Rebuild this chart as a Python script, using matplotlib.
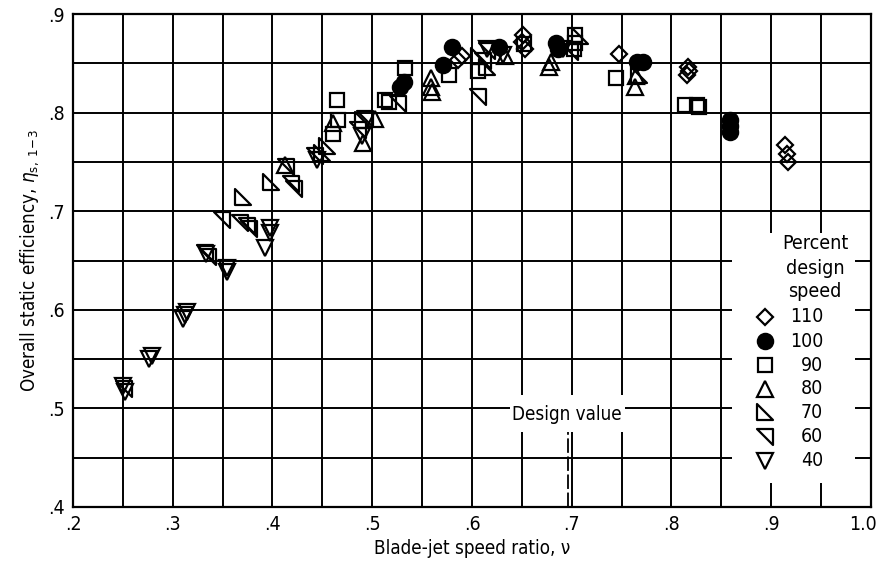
import matplotlib
matplotlib.use("Agg")
import matplotlib.pyplot as plt
import matplotlib.transforms as mtransforms
from matplotlib.path import Path
from matplotlib.patches import Rectangle
import numpy as np

plt.rcParams['font.family'] = ['DejaVu Sans']
plt.rcParams['font.stretch'] = 'condensed'
plt.rcParams['mathtext.fontset'] = 'dejavusans'

# ---- data ----
x110 = [0.586, 0.590, 0.650, 0.651, 0.653, 0.747, 0.817, 0.818, 0.816, 0.914, 0.916, 0.917]
y110 = [0.853, 0.857, 0.872, 0.879, 0.864, 0.859, 0.846, 0.842, 0.838, 0.767, 0.758, 0.750]

x100 = [0.528, 0.532, 0.571, 0.580, 0.627, 0.684, 0.686, 0.765, 0.771, 0.859, 0.859, 0.859]
y100 = [0.826, 0.831, 0.848, 0.867, 0.867, 0.871, 0.864, 0.851, 0.851, 0.793, 0.786, 0.780]

x90 = [0.461, 0.465, 0.466, 0.513, 0.517, 0.533, 0.577, 0.606, 0.652, 0.702, 0.703, 0.703, 0.744, 0.814, 0.826, 0.828]
y90 = [0.778, 0.813, 0.793, 0.813, 0.811, 0.845, 0.838, 0.842, 0.870, 0.864, 0.871, 0.879, 0.835, 0.808, 0.808, 0.806]

x80 = [0.413, 0.461, 0.491, 0.503, 0.559, 0.559, 0.560, 0.633, 0.677, 0.679, 0.763, 0.764]
y80 = [0.747, 0.789, 0.769, 0.794, 0.835, 0.826, 0.821, 0.857, 0.846, 0.851, 0.826, 0.837]

x70 = [0.370, 0.398, 0.450, 0.455, 0.491, 0.607, 0.615, 0.708, 0.767]
y70 = [0.714, 0.730, 0.759, 0.766, 0.793, 0.857, 0.846, 0.878, 0.838]

x60 = [0.251, 0.332, 0.335, 0.349, 0.367, 0.374, 0.376, 0.414, 0.419, 0.422, 0.443, 0.486, 0.493,
       0.526, 0.606, 0.611, 0.615, 0.698]
y60 = [0.520, 0.658, 0.654, 0.691, 0.688, 0.685, 0.682, 0.745, 0.728, 0.723, 0.756, 0.782, 0.794,
       0.809, 0.816, 0.852, 0.862, 0.861]

x40 = [0.250, 0.252, 0.276, 0.279, 0.310, 0.312, 0.314, 0.333, 0.354, 0.354, 0.397, 0.397, 0.392,
       0.445, 0.490, 0.615, 0.631, 0.691]
y40 = [0.523, 0.517, 0.550, 0.553, 0.591, 0.595, 0.598, 0.657, 0.642, 0.638, 0.683, 0.678, 0.663,
       0.752, 0.776, 0.864, 0.858, 0.864]

speeds = ['110', '100', '90', '80', '70', '60', '40']
xticks = [0.2, 0.3, 0.4, 0.5, 0.6, 0.7, 0.8, 0.9, 1.0]
xticklabels = ['.2', '.3', '.4', '.5', '.6', '.7', '.8', '.9', '1.0']
yticks = [0.4, 0.5, 0.6, 0.7, 0.8, 0.9]
yticklabels = ['.4', '.5', '.6', '.7', '.8', '.9']
design_value = 0.696

# ---- markers ----
tri70 = Path([(-0.5, 0.5), (-0.5, -0.5), (0.5, -0.5), (-0.5, 0.5)],
             [Path.MOVETO, Path.LINETO, Path.LINETO, Path.CLOSEPOLY])
tri60 = Path([(-0.5, 0.5), (0.5, 0.5), (0.5, -0.5), (-0.5, 0.5)],
             [Path.MOVETO, Path.LINETO, Path.LINETO, Path.CLOSEPOLY])

series = [
    (x110, y110, dict(marker='D', ms=8.5, mfc='none')),
    (x100, y100, dict(marker='o', ms=11, mfc='black')),
    (x90, y90, dict(marker='s', ms=10, mfc='none')),
    (x80, y80, dict(marker='^', ms=11, mfc='none')),
    (x70, y70, dict(marker=tri70, ms=11, mfc='none')),
    (x60, y60, dict(marker=tri60, ms=11, mfc='none')),
    (x40, y40, dict(marker='v', ms=11, mfc='none')),
]

fig = plt.figure(figsize=(8.83, 5.61), dpi=100)
ax = fig.add_axes([73/883, 54/561, 798/883, 493/561])
ax.set_xlim(0.2, 1.0)
ax.set_ylim(0.4, 0.9)

# grid
for gx in np.arange(0.25, 1.0, 0.05):
    ax.axvline(gx, color='black', lw=1.4, zorder=1)
for gy in np.arange(0.45, 0.9, 0.05):
    ax.axhline(gy, color='black', lw=1.4, zorder=1)

# white boxes (legend area, design-value label)
ax.add_patch(Rectangle((0.861, 0.424), 0.123, 0.254, facecolor='white', edgecolor='none', zorder=2))
ax.add_patch(Rectangle((0.638, 0.476), 0.115, 0.038, facecolor='white', edgecolor='none', zorder=2))

for xs, ys, kw in series:
    ax.plot(xs, ys, ls='none', color='black', mec='black', mew=1.6, zorder=4, **kw)

# design value
ax.plot([design_value, design_value], [0.40, 0.476], color='black', lw=1.3,
        dashes=(8, 2), zorder=3)
ax.text(0.695, 0.4935, 'Design value', ha='center', va='center', fontsize=13.5, zorder=5)

# legend
ax.text(0.944, 0.667, 'Percent', ha='center', va='center', fontsize=14, zorder=5)
ax.text(0.944, 0.642, 'design', ha='center', va='center', fontsize=14, zorder=5)
ax.text(0.944, 0.619, 'speed', ha='center', va='center', fontsize=14, zorder=5)
row_y = [0.593, 0.568, 0.544, 0.520, 0.496, 0.471, 0.447]
for (xs, ys, kw), lab, ry in zip(series, speeds, row_y):
    ax.plot([0.894], [ry], ls='none', color='black', mec='black', mew=1.6, zorder=5, **kw)
    ax.text(0.952, ry, lab, ha='right', va='center', fontsize=14, zorder=5)

ax.set_xticks(xticks)
ax.set_xticklabels(xticklabels)
ax.set_yticks(yticks)
ax.set_yticklabels(yticklabels)
ax.tick_params(length=0, labelsize=14, pad=6)
last = ax.get_xticklabels()[-1]
last.set_transform(last.get_transform() + mtransforms.ScaledTranslation(-6/72, 0, fig.dpi_scale_trans))
for s in ax.spines.values():
    s.set_linewidth(1.6)

ax.set_xlabel('Blade-jet speed ratio, ν', fontsize=13.5, labelpad=3)
ax.set_ylabel(r'Overall static efficiency, $\eta_{\mathrm{s,\ 1\!-\!3}}$', fontsize=13.5, labelpad=5)

fig.savefig('out.png', dpi=100)
